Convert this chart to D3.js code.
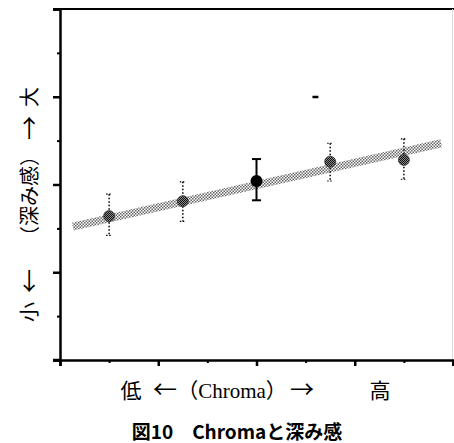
<!DOCTYPE html>
<html>
<head>
<meta charset="utf-8">
<script src="https://cdn.jsdelivr.net/npm/d3@7"></script>
<style>
  body { margin: 0; background: #fff; }
  svg { display: block; }
</style>
</head>
<body>
<svg id="chart" width="454" height="443"></svg>
<script>
// Chroma level positions (low -> high) and depth ratings
const chromaPos = [0.5, 1.25, 2, 2.75, 3.5];
const depthMean = [1.64, 1.81, 2.04, 2.26, 2.28];
const depthUpper = [1.89, 2.03, 2.29, 2.47, 2.52];
const depthLower = [1.42, 1.58, 1.82, 2.04, 2.06];
const highlightIndex = 2;

// Regression band endpoints
const trendX = [0.13, 3.88];
const trendY = [1.52, 2.47];

// Stray mark in the plot
const strayMark = [2.6, 3.0];

const majorTicks = [0, 1, 2, 3, 4];
const minorTicks = [0.5, 1.5, 2.5, 3.5];

const svg = d3.select('#chart');

const x = d3.scaleLinear().domain([0, 4]).range([60, 453]);
const y = d3.scaleLinear().domain([0, 4]).range([360, 9]);

// Patterns
const defs = svg.append('defs');
const band = defs.append('pattern')
    .attr('id', 'bandPat')
    .attr('patternUnits', 'userSpaceOnUse')
    .attr('width', 3).attr('height', 3);
band.append('rect').attr('x', 0).attr('y', 0).attr('width', 1.5).attr('height', 1.5).attr('fill', '#666');
band.append('rect').attr('x', 1.5).attr('y', 1.5).attr('width', 1.5).attr('height', 1.5).attr('fill', '#666');

const dots = defs.append('pattern')
    .attr('id', 'markPat')
    .attr('patternUnits', 'userSpaceOnUse')
    .attr('width', 2).attr('height', 2);
dots.append('rect').attr('width', 2).attr('height', 2).attr('fill', '#888');
dots.append('rect').attr('width', 1).attr('height', 1).attr('fill', '#111');
dots.append('rect').attr('x', 1).attr('y', 1).attr('width', 1).attr('height', 1).attr('fill', '#111');

// Frame lines
svg.append('line')
    .attr('x1', 53).attr('x2', 454)
    .attr('y1', y(4)).attr('y2', y(4))
    .style('stroke', '#000').style('stroke-width', 2);
svg.append('line')
    .attr('x1', 452.5).attr('x2', 452.5)
    .attr('y1', y(4)).attr('y2', y(0))
    .style('stroke', '#ddd').style('stroke-width', 1);

// Y axis
svg.append('g')
    .attr('transform', `translate(${x(0)},0)`)
    .call(d3.axisLeft(y).tickValues(majorTicks).tickSize(7).tickFormat(''))
    .call(g => g.selectAll('path, line').style('stroke', '#000').style('stroke-width', 2.5));
svg.append('g')
    .attr('transform', `translate(${x(0)},0)`)
    .call(d3.axisLeft(y).tickValues(minorTicks).tickSize(3).tickFormat(''))
    .call(g => g.select('.domain').remove())
    .call(g => g.selectAll('line').style('stroke', '#000').style('stroke-width', 2));

// X axis
svg.append('g')
    .attr('transform', `translate(0,${y(0)})`)
    .call(d3.axisBottom(x).tickValues(majorTicks).tickSize(6).tickFormat(''))
    .call(g => g.selectAll('path, line').style('stroke', '#000').style('stroke-width', 2.5));
svg.append('g')
    .attr('transform', `translate(0,${y(0)})`)
    .call(d3.axisBottom(x).tickValues(minorTicks).tickSize(3).tickFormat(''))
    .call(g => g.select('.domain').remove())
    .call(g => g.selectAll('line').style('stroke', '#000').style('stroke-width', 2));
// extend bottom axis slightly to the left
svg.append('line')
    .attr('x1', 53).attr('x2', x(0))
    .attr('y1', y(0)).attr('y2', y(0))
    .style('stroke', '#000').style('stroke-width', 2.5);

// Regression band
svg.append('line')
    .attr('x1', x(trendX[0])).attr('y1', y(trendY[0]))
    .attr('x2', x(trendX[1])).attr('y2', y(trendY[1]))
    .style('stroke', 'url(#bandPat)')
    .style('stroke-width', 8);

// Error bars
const data = chromaPos.map((c, i) => ({
    c, m: depthMean[i], hi: depthUpper[i], lo: depthLower[i], hl: i === highlightIndex
}));

const bars = svg.append('g').selectAll('g').data(data).join('g');
bars.append('line')
    .attr('x1', d => x(d.c)).attr('x2', d => x(d.c))
    .attr('y1', d => y(d.hi)).attr('y2', d => y(d.lo))
    .style('stroke', '#000')
    .style('stroke-width', d => d.hl ? 2 : 1.5)
    .style('stroke-dasharray', d => d.hl ? null : '1.5,2');
bars.selectAll('.cap')
    .data(d => [{ c: d.c, v: d.hi, hl: d.hl }, { c: d.c, v: d.lo, hl: d.hl }])
    .join('line')
    .attr('class', 'cap')
    .attr('x1', d => x(d.c) - (d.hl ? 4.5 : 3))
    .attr('x2', d => x(d.c) + (d.hl ? 4.5 : 3))
    .attr('y1', d => y(d.v)).attr('y2', d => y(d.v))
    .style('stroke', '#000')
    .style('stroke-width', d => d.hl ? 2 : 1.2)
    .style('stroke-dasharray', d => d.hl ? null : '1.5,1.5');

// Means
bars.append('circle')
    .attr('cx', d => x(d.c)).attr('cy', d => y(d.m))
    .attr('r', d => d.hl ? 6 : 5.5)
    .style('fill', d => d.hl ? '#000' : 'url(#markPat)')
    .style('stroke', d => d.hl ? '#000' : '#333')
    .style('stroke-width', d => d.hl ? 0 : 0.8);

// Stray mark
svg.append('rect')
    .attr('x', x(strayMark[0]) - 3).attr('y', y(strayMark[1]) - 1)
    .attr('width', 6).attr('height', 2.5)
    .style('fill', '#000');

const serifCJK = '"Liberation Serif", "Noto Sans CJK JP", serif';
const arrowFont = '"Noto Sans CJK JP", sans-serif';
const isArrow = t => /[←→]/.test(t);

// Y axis label (rotated)
const yLabelParts = [
    { t: '小', p: 312 },
    { t: '←', p: 281 },
    { t: '（深み感）', p: 196 },
    { t: '→', p: 128 },
    { t: '大', p: 97 }
];
svg.append('g').selectAll('text').data(yLabelParts).join('text')
    .attr('transform', d => `translate(30,${d.p}) rotate(-90)`)
    .attr('text-anchor', 'middle')
    .attr('dy', '0.35em')
    .style('font-family', d => isArrow(d.t) ? arrowFont : serifCJK)
    .style('font-size', d => isArrow(d.t) ? '24px' : '20px')
    .style('fill', '#000')
    .text(d => d.t);

// X axis label
const xLabelParts = [
    { t: '低', p: 131 },
    { t: '←', p: 165 },
    { t: '（Chroma）', p: 232 },
    { t: '→', p: 302 },
    { t: '高', p: 380 }
];
svg.append('g').selectAll('text').data(xLabelParts).join('text')
    .attr('x', d => d.p)
    .attr('y', 398)
    .attr('text-anchor', 'middle')
    .style('font-family', d => isArrow(d.t) ? arrowFont : serifCJK)
    .style('font-size', d => isArrow(d.t) ? '24px' : '21px')
    .style('fill', '#000')
    .text(d => d.t);

// Caption
svg.append('text')
    .attr('x', 237)
    .attr('y', 439)
    .attr('text-anchor', 'middle')
    .style('font-family', '"Noto Sans CJK JP", sans-serif')
    .style('font-size', '19px')
    .style('font-weight', 'bold')
    .style('fill', '#000')
    .text('図10　Chromaと深み感');
</script>
</body>
</html>
